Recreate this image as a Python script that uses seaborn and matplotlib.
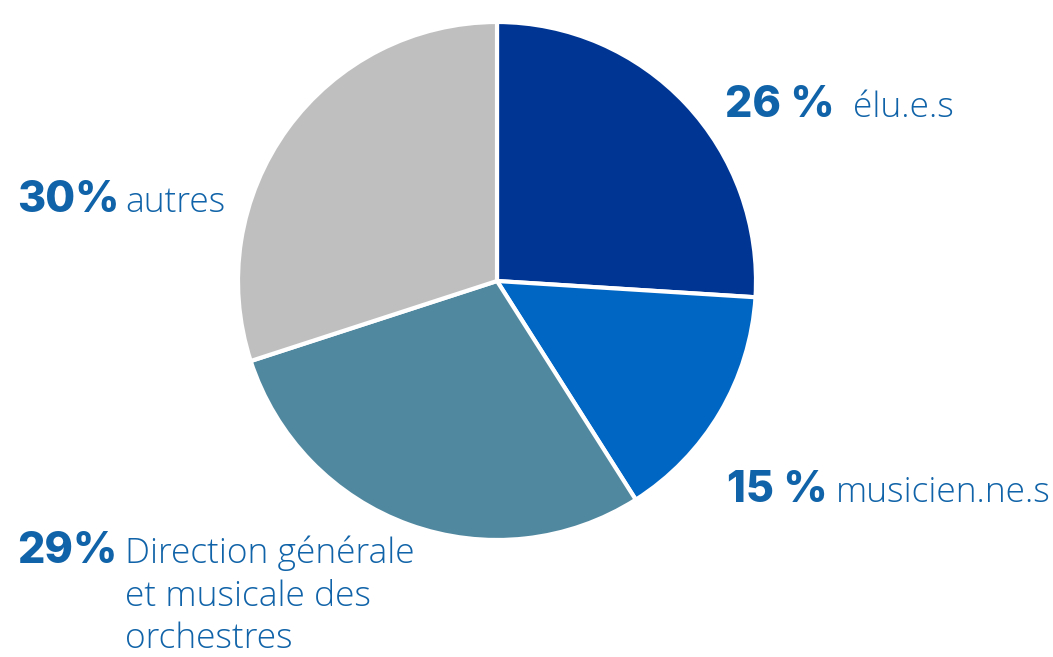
import matplotlib as mpl
mpl.use("Agg")
import matplotlib.pyplot as plt
import seaborn as sns

# data
categories = ["élu.e.s", "musicien.ne.s", "Direction générale\net musicale des\norchestres", "autres"]
shares = [26, 15, 29, 30]
pct_labels = ["26 %", "15 %", "29%", "30%"]
slice_colors = ["#003594", "#0066c4", "#5088a0", "#bfbfbf"]

W, H = 1053, 657
text_blue = "#1063a8"


def main():
    sns.set_theme(style="white")
    plt.rcParams["font.family"] = ["Open Sans", "DejaVu Sans"]

    fig = plt.figure(figsize=(W / 100, H / 100), dpi=100)
    ax = fig.add_axes([0, 0, 1, 1])

    ax.pie(shares, colors=slice_colors, startangle=90, counterclock=False,
           center=(497, H - 281), radius=259, frame=True,
           wedgeprops=dict(edgecolor="white", linewidth=3))
    ax.set_xlim(0, W)
    ax.set_ylim(0, H)
    ax.set_aspect("equal")
    ax.axis("off")

    # label anchors (pct left x, name left x, baseline y from top)
    spots = [(725, 853, 117), (727, 836, 502), (17, 125, 563), (17, 125, 212)]
    for pct, name, (xp, xn, yb) in zip(pct_labels, categories, spots):
        ax.text(xp, H - yb, pct, fontsize=31, fontweight="heavy", color=text_blue,
                family=["Inter", "DejaVu Sans"], ha="left", va="baseline")
        for i, line in enumerate(name.split("\n")):
            ax.text(xn, H - yb - i * 42.5, line, fontsize=25.5, fontweight="light",
                    color=text_blue, ha="left", va="baseline")

    fig.savefig("out.png", dpi=100)


if __name__ == "__main__":
    main()
